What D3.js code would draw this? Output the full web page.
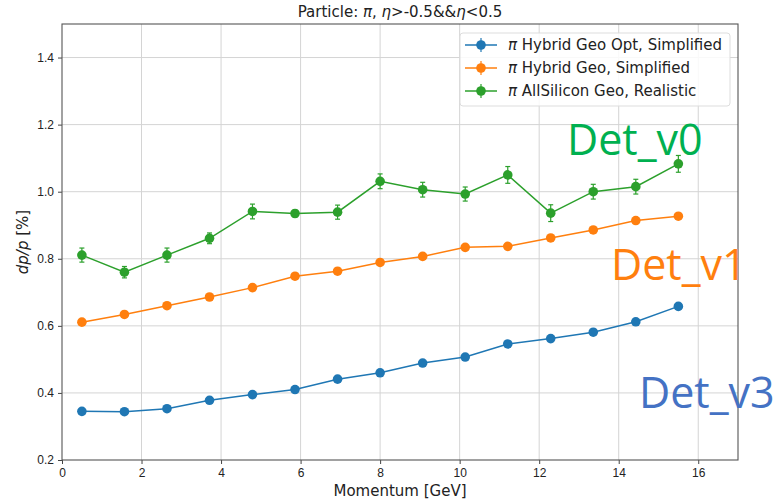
<!DOCTYPE html>
<html>
<head>
<meta charset="utf-8">
<script src="https://cdn.jsdelivr.net/npm/d3@7"></script>
<style>
  body { margin: 0; background: #fff; }
  svg { display: block; }
</style>
</head>
<body>
<div id="chart"></div>
<script>
// dp/p vs momentum for three detector geometries

const momentum = [0.5, 1.57, 2.64, 3.71, 4.79, 5.86, 6.93, 8.0, 9.07, 10.14, 11.21, 12.29, 13.36, 14.43, 15.5];

const hybridOpt = [0.345, 0.344, 0.353, 0.378, 0.395, 0.410, 0.441, 0.460, 0.489, 0.507, 0.546, 0.562, 0.581, 0.612, 0.658];
const hybridOptErr = [0.004, 0.004, 0.004, 0.004, 0.004, 0.004, 0.004, 0.004, 0.004, 0.004, 0.004, 0.004, 0.004, 0.004, 0.004];

const hybrid = [0.611, 0.634, 0.660, 0.686, 0.714, 0.748, 0.763, 0.789, 0.807, 0.834, 0.837, 0.862, 0.886, 0.914, 0.927];
const hybridErr = [0.004, 0.004, 0.004, 0.004, 0.004, 0.004, 0.004, 0.004, 0.004, 0.004, 0.004, 0.004, 0.004, 0.004, 0.004];

const allSilicon = [0.811, 0.760, 0.811, 0.861, 0.941, 0.935, 0.939, 1.031, 1.006, 0.993, 1.050, 0.936, 1.000, 1.015, 1.083];
const allSiliconErr = [0.021, 0.017, 0.021, 0.016, 0.022, 0.010, 0.021, 0.022, 0.022, 0.021, 0.025, 0.025, 0.022, 0.022, 0.025];

const seriesNames = ["Hybrid Geo Opt, Simplified", "Hybrid Geo, Simplified", "AllSilicon Geo, Realistic"];
const seriesColors = ["#1f77b4", "#ff7f0e", "#2ca02c"];

const xTicks = [0, 2, 4, 6, 8, 10, 12, 14, 16];
const yTicks = [0.2, 0.4, 0.6, 0.8, 1.0, 1.2, 1.4];

const labels = ["Det_v0", "Det_v1", "Det_v3"];
const labelColors = ["#00b050", "#ff7f0e", "#4472c4"];

const width = 780, height = 502;
const margin = {top: 24, right: 42, bottom: 42, left: 62};

const series = [
  {name: seriesNames[0], color: seriesColors[0], values: hybridOpt, err: hybridOptErr},
  {name: seriesNames[1], color: seriesColors[1], values: hybrid, err: hybridErr},
  {name: seriesNames[2], color: seriesColors[2], values: allSilicon, err: allSiliconErr}
];

const x = d3.scaleLinear()
    .domain([0, 17])
    .range([margin.left, width - margin.right]);

const y = d3.scaleLinear()
    .domain([0.2, 1.5])
    .range([height - margin.bottom, margin.top]);

const svg = d3.create("svg")
    .attr("width", width)
    .attr("height", height)
    .attr("viewBox", [0, 0, width, height])
    .style("font-family", "'DejaVu Sans', sans-serif");

// grid
svg.append("g")
    .attr("stroke", "#d4d4d4")
    .attr("stroke-width", 1)
    .call(g => g.selectAll("line.vx")
      .data(xTicks.slice(1))
      .join("line")
        .attr("x1", d => x(d))
        .attr("x2", d => x(d))
        .attr("y1", margin.top)
        .attr("y2", height - margin.bottom))
    .call(g => g.selectAll("line.hy")
      .data(yTicks.slice(1))
      .join("line")
        .attr("x1", margin.left)
        .attr("x2", width - margin.right)
        .attr("y1", d => y(d))
        .attr("y2", d => y(d)));

const xAxis = g => g
    .attr("transform", `translate(0,${height - margin.bottom})`)
    .call(d3.axisBottom(x).tickValues(xTicks).tickFormat(d3.format("d")).tickSize(4).tickPadding(4).tickSizeOuter(0))
    .call(g => g.select(".domain").remove())
    .call(g => g.selectAll(".tick line").attr("stroke", "#444"))
    .call(g => g.selectAll(".tick text").attr("fill", "#222").style("font-size", "12px"));

const yAxis = g => g
    .attr("transform", `translate(${margin.left},0)`)
    .call(d3.axisLeft(y).tickValues(yTicks).tickFormat(d3.format(".1f")).tickSize(4).tickPadding(4).tickSizeOuter(0))
    .call(g => g.select(".domain").remove())
    .call(g => g.selectAll(".tick line").attr("stroke", "#444"))
    .call(g => g.selectAll(".tick text").attr("fill", "#222").style("font-size", "12px"));

svg.append("g").call(xAxis);
svg.append("g").call(yAxis);

// frame
svg.append("rect")
    .attr("x", margin.left)
    .attr("y", margin.top)
    .attr("width", width - margin.left - margin.right)
    .attr("height", height - margin.top - margin.bottom)
    .attr("fill", "none")
    .attr("stroke", "#555")
    .attr("stroke-width", 1.1);

const line = d3.line()
    .x((d, i) => x(momentum[i]))
    .y(d => y(d));

const groups = svg.append("g")
  .selectAll("g")
  .data(series)
  .join("g")
    .attr("stroke", d => d.color)
    .attr("fill", d => d.color);

groups.append("path")
    .attr("fill", "none")
    .attr("stroke-width", 1.5)
    .attr("d", d => line(d.values));

// error bars
groups.selectAll("g.err")
  .data(d => d.values.map((v, i) => ({x: momentum[i], v, e: d.err[i]})))
  .join("g")
    .attr("stroke-width", 1.2)
    .call(g => g.append("line")
        .attr("x1", d => x(d.x)).attr("x2", d => x(d.x))
        .attr("y1", d => y(d.v - d.e)).attr("y2", d => y(d.v + d.e)))
    .call(g => g.append("line")
        .attr("x1", d => x(d.x) - 2.5).attr("x2", d => x(d.x) + 2.5)
        .attr("y1", d => y(d.v - d.e)).attr("y2", d => y(d.v - d.e)))
    .call(g => g.append("line")
        .attr("x1", d => x(d.x) - 2.5).attr("x2", d => x(d.x) + 2.5)
        .attr("y1", d => y(d.v + d.e)).attr("y2", d => y(d.v + d.e)));

groups.selectAll("circle")
  .data(d => d.values)
  .join("circle")
    .attr("stroke", "none")
    .attr("cx", (d, i) => x(momentum[i]))
    .attr("cy", d => y(d))
    .attr("r", 4.8);

// title
svg.append("text")
    .attr("x", (margin.left + width - margin.right) / 2)
    .attr("y", 17)
    .attr("text-anchor", "middle")
    .attr("fill", "#222")
    .style("font-size", "15px")
    .call(t => {
      t.append("tspan").text("Particle: ");
      t.append("tspan").attr("font-style", "italic").text("π");
      t.append("tspan").text(", ");
      t.append("tspan").attr("font-style", "italic").text("η");
      t.append("tspan").text(">-0.5&&");
      t.append("tspan").attr("font-style", "italic").text("η");
      t.append("tspan").text("<0.5");
    });

// axis titles
svg.append("text")
    .attr("x", (margin.left + width - margin.right) / 2)
    .attr("y", 496)
    .attr("text-anchor", "middle")
    .attr("fill", "#222")
    .style("font-size", "15px")
    .text("Momentum [GeV]");

svg.append("text")
    .attr("transform", `translate(28,${y(0.85)}) rotate(-90)`)
    .attr("text-anchor", "middle")
    .attr("fill", "#222")
    .style("font-size", "15px")
    .call(t => {
      t.append("tspan").attr("font-style", "italic").text("dp/p");
      t.append("tspan").text(" [%]");
    });

// legend
const legend = svg.append("g")
    .attr("transform", "translate(460,33)");

legend.append("rect")
    .attr("width", 270)
    .attr("height", 73)
    .attr("rx", 3)
    .attr("fill", "#fff")
    .attr("fill-opacity", 0.85)
    .attr("stroke", "#ddd");

legend.selectAll("g")
  .data(series)
  .join("g")
    .attr("transform", (d, i) => `translate(0,${12 + i * 23})`)
    .call(g => g.append("line")
        .attr("x1", 5).attr("x2", 37)
        .attr("stroke", d => d.color)
        .attr("stroke-width", 1.5))
    .call(g => g.append("line")
        .attr("x1", 21).attr("x2", 21).attr("y1", -7).attr("y2", 7)
        .attr("stroke", d => d.color)
        .attr("stroke-width", 1.2))
    .call(g => g.append("circle")
        .attr("cx", 21)
        .attr("r", 4.8)
        .attr("fill", d => d.color))
    .call(g => g.append("text")
        .attr("x", 48)
        .attr("dy", "0.35em")
        .attr("fill", "#222")
        .style("font-size", "15px")
        .call(t => {
          t.append("tspan").attr("font-style", "italic").text("π");
          t.append("tspan").text(d => " " + d.name);
        }));

// detector annotations
svg.append("g")
    .style("font-family", "'Open Sans', sans-serif")
    .style("font-size", "43px")
  .selectAll("text")
  .data(labels)
  .join("text")
    .attr("x", (d, i) => [567, 611, 639][i])
    .attr("y", (d, i) => [155, 280, 408][i])
    .attr("fill", (d, i) => labelColors[i])
    .text(d => d);

d3.select("#chart").append(() => svg.node());
</script>
</body>
</html>
